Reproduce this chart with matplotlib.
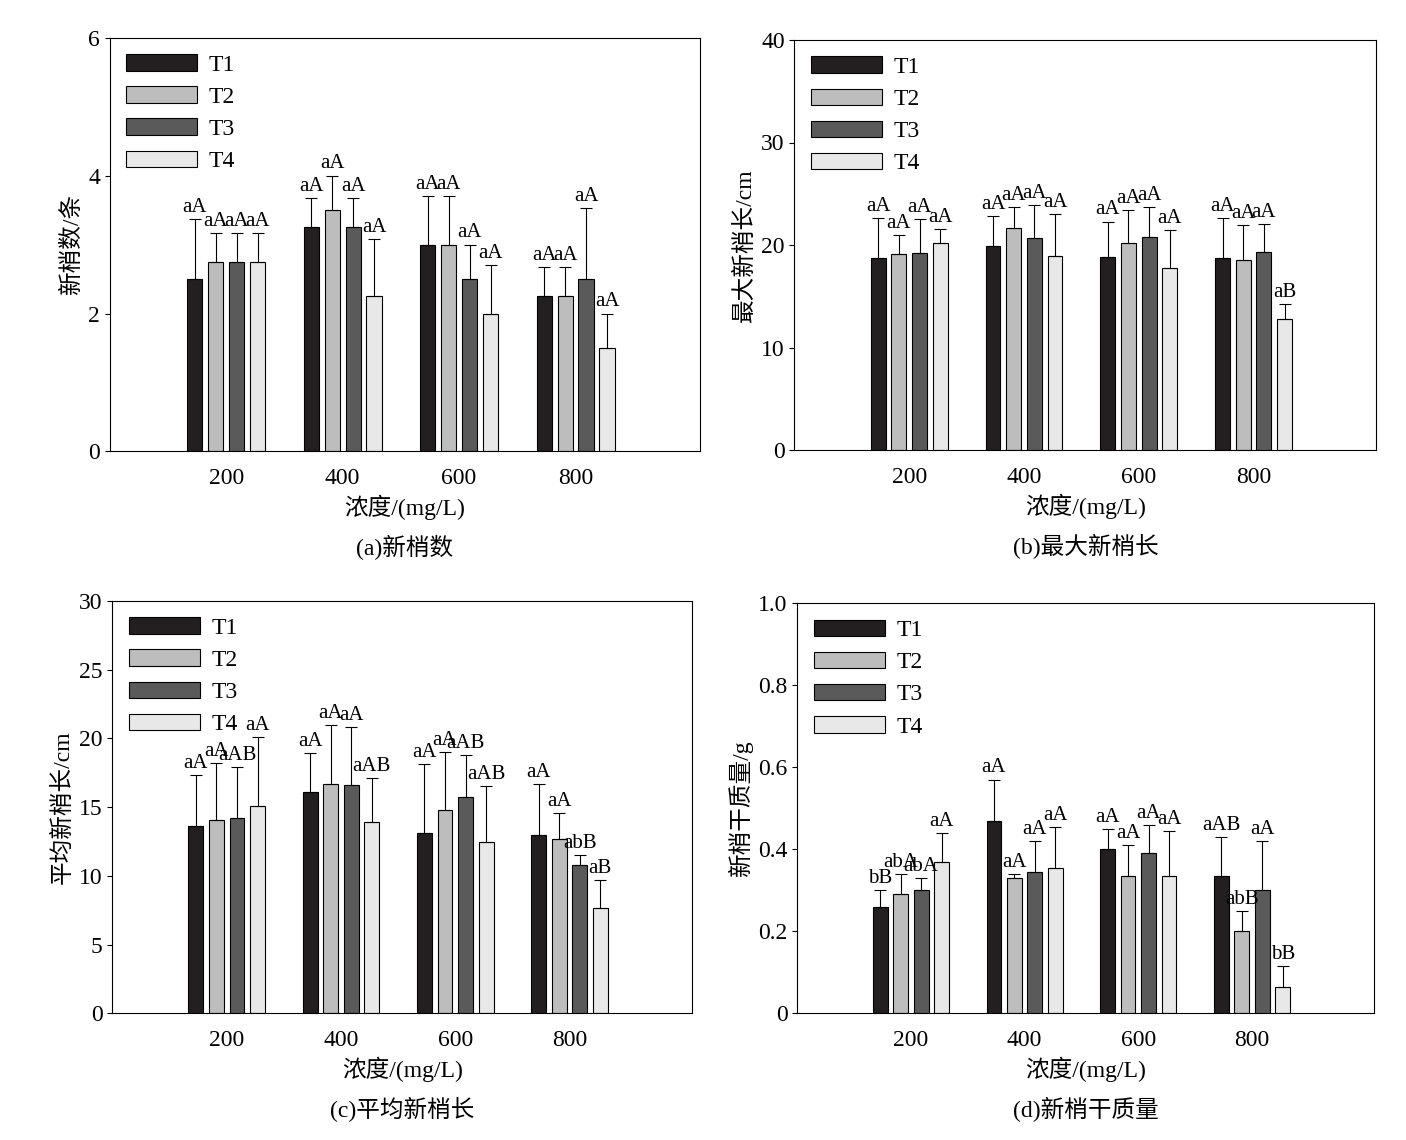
import matplotlib
matplotlib.use("Agg")
import matplotlib.pyplot as plt
import numpy as np

plt.rcParams['font.family'] = ['Liberation Serif', 'Noto Sans CJK SC']
plt.rcParams['font.size'] = 16

categories = ["200", "400", "600", "800"]
series = ["T1", "T2", "T3", "T4"]
colors = ["#231f20", "#bdbdbd", "#5a5a5a", "#e8e8e8"]

# panel (a) 新梢数
a_vals = [[2.5, 3.25, 3.0, 2.25], [2.75, 3.5, 3.0, 2.25], [2.75, 3.25, 2.5, 2.5], [2.75, 2.25, 2.0, 1.5]]
a_tops = [[3.37, 3.68, 3.7, 2.68], [3.17, 4.0, 3.7, 2.68], [3.17, 3.68, 3.0, 3.53], [3.17, 3.08, 2.7, 2.0]]
a_lab = [["aA"] * 4] * 4

# panel (b) 最大新梢长
b_vals = [[18.7, 19.9, 18.8, 18.7], [19.1, 21.7, 20.2, 18.5], [19.2, 20.7, 20.8, 19.3], [20.2, 18.9, 17.8, 12.8]]
b_tops = [[22.6, 22.8, 22.3, 22.6], [21.0, 23.7, 23.4, 22.0], [22.5, 23.9, 23.7, 22.1], [21.6, 23.0, 21.5, 14.3]]
b_lab = [["aA"] * 4, ["aA"] * 4, ["aA"] * 4, ["aA", "aA", "aA", "aB"]]

# panel (c) 平均新梢长
c_vals = [[13.6, 16.1, 13.1, 13.0], [14.1, 16.7, 14.8, 12.7], [14.2, 16.6, 15.7, 10.8], [15.1, 13.9, 12.5, 7.7]]
c_tops = [[17.3, 18.9, 18.1, 16.7], [18.2, 21.0, 19.0, 14.6], [17.9, 20.8, 18.8, 11.5], [20.1, 17.1, 16.5, 9.7]]
c_lab = [["aA", "aA", "aA", "aA"], ["aA", "aA", "aA", "aA"], ["aAB", "aA", "aAB", "abB"], ["aA", "aAB", "aAB", "aB"]]

# panel (d) 新梢干质量
d_vals = [[0.26, 0.47, 0.40, 0.335], [0.29, 0.33, 0.335, 0.20], [0.30, 0.345, 0.39, 0.30], [0.37, 0.355, 0.335, 0.065]]
d_tops = [[0.30, 0.57, 0.45, 0.43], [0.34, 0.34, 0.41, 0.25], [0.33, 0.42, 0.46, 0.42], [0.44, 0.455, 0.445, 0.115]]
d_lab = [["bB", "aA", "aA", "aAB"], ["abA", "aA", "aA", "abB"], ["abA", "aA", "aA", "aA"], ["aA", "aA", "aA", "bB"]]

panels = [
    ([0.078, 0.604, 0.420, 0.363], a_vals, a_tops, a_lab, 6, [0, 2, 4, 6], "新梢数/条", "(a)新梢数", "%d"),
    ([0.565, 0.605, 0.414, 0.360], b_vals, b_tops, b_lab, 40, [0, 10, 20, 30, 40], "最大新梢长/cm", "(b)最大新梢长", "%d"),
    ([0.080, 0.111, 0.412, 0.362], c_vals, c_tops, c_lab, 30, [0, 5, 10, 15, 20, 25, 30], "平均新梢长/cm", "(c)平均新梢长", "%d"),
    ([0.567, 0.111, 0.410, 0.360], d_vals, d_tops, d_lab, 1.0, [0, 0.2, 0.4, 0.6, 0.8, 1.0], "新梢干质量/g", "(d)新梢干质量", None),
]

fig = plt.figure(figsize=(14.06, 11.4), dpi=100)
x = np.arange(1, 5)
width = 0.13
for rect, vals, tops, labs, ymax, yt, ylab, cap, fmt in panels:
    ax = fig.add_axes(rect)
    for i in range(4):
        xs = x + 0.18 * (i - 1.5)
        v = np.array(vals[i])
        err = np.array(tops[i]) - v
        ax.bar(xs, v, width, color=colors[i], edgecolor="black", linewidth=0.8,
               label=series[i], yerr=[np.zeros(4), err], capsize=4,
               error_kw=dict(elinewidth=0.8, capthick=0.8))
        for j in range(4):
            ax.text(xs[j], tops[i][j] + ymax * 0.005, labs[i][j], ha="center", va="bottom", fontsize=15)
    ax.set_xlim(0.0, 5.07)
    ax.set_ylim(0, ymax)
    ax.set_xticks(x)
    ax.set_xticklabels(categories, fontsize=17)
    ax.tick_params(axis="x", length=0, pad=12)
    ax.tick_params(axis="y", labelsize=17)
    ax.set_yticks(yt)
    if fmt is None:
        ax.set_yticklabels(["0", "0.2", "0.4", "0.6", "0.8", "1.0"])
    ax.set_ylabel(ylab, fontsize=17)
    ax.set_xlabel("浓度/(mg/L)" + "\n" + cap, fontsize=17, linespacing=1.75, labelpad=4)
    ax.legend(loc="upper left", frameon=False, handlelength=3.0, handleheight=0.7,
              handletextpad=0.5, labelspacing=0.45, borderaxespad=0.3, fontsize=17)
    for s in ax.spines.values():
        s.set_linewidth(0.8)

fig.savefig("out.png", dpi=100)
